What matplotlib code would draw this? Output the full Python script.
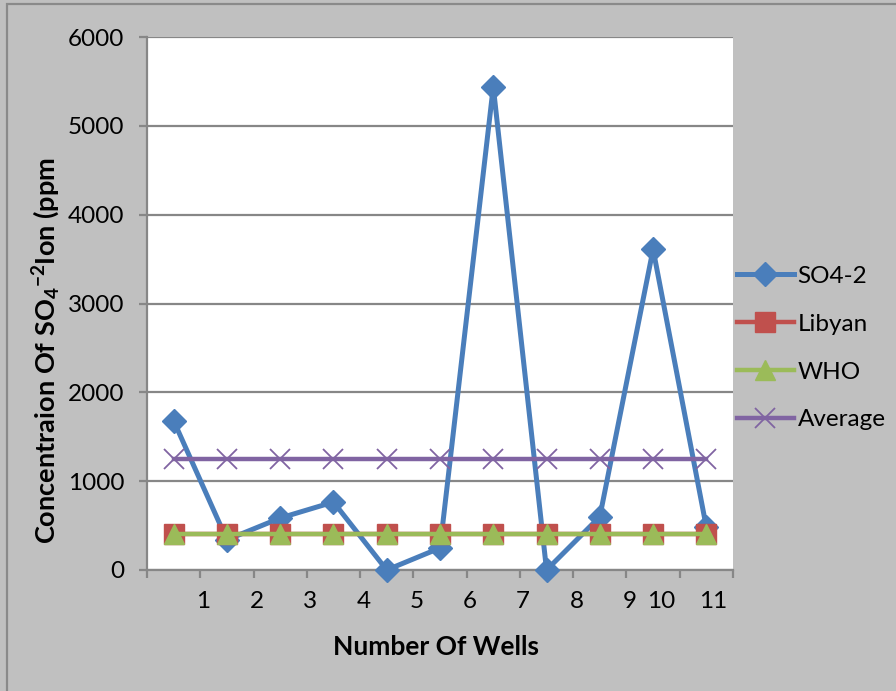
import matplotlib
matplotlib.use("Agg")
import matplotlib.pyplot as plt
from matplotlib.patches import Rectangle

plt.rcParams["font.family"] = ["Lato", "DejaVu Sans"]
plt.rcParams["mathtext.fontset"] = "custom"
plt.rcParams["mathtext.rm"] = "Lato:bold"
plt.rcParams["mathtext.it"] = "Lato:bold"
plt.rcParams["mathtext.bf"] = "Lato:bold"

# Well positions (category centres) and concentrations in ppm
wells = [0.5, 1.5, 2.5, 3.5, 4.5, 5.5, 6.5, 7.5, 8.5, 9.5, 10.5]
so4 = [1680, 340, 585, 765, 0, 248, 5440, 0, 600, 3610, 480]
libyan = [400] * 11
who = [400] * 11
average = [1250] * 11

# Category boundaries and the label text drawn under the axis
boundaries = list(range(0, 12))
label_pos = [1.06, 2.06, 3.06, 4.06, 5.06, 6.06, 7.06, 8.06, 9.07, 9.66, 10.62]
label_txt = ["1", "2", "3", "4", "5", "6", "7", "8", "9", "10", "11"]
yticks = [0, 1000, 2000, 3000, 4000, 5000, 6000]

W, H = 896, 691
bg = "#c0c0c0"
grid = "#878787"

fig = plt.figure(figsize=(W / 100, H / 100), dpi=100, facecolor=bg)
fig.patches.append(Rectangle((7 / W, -0.1), 1.2, (H - 4) / H + 0.1,
                             transform=fig.transFigure, facecolor="none",
                             edgecolor="#8a8a8a", linewidth=1.6))

ax = fig.add_axes([147 / W, (H - 570) / H, (733 - 147) / W, (570 - 37) / H])
ax.set_facecolor("white")

ax.set_xlim(0, 11)
ax.set_ylim(0, 6000)
ax.set_yticks(yticks)
ax.yaxis.grid(True, color=grid, linewidth=1.6)
ax.set_axisbelow(True)
for s in ["top", "right"]:
    ax.spines[s].set_visible(False)
for s in ["left", "bottom"]:
    ax.spines[s].set_color(grid)
    ax.spines[s].set_linewidth(1.6)

ax.set_xticks(boundaries)
ax.set_xticklabels([])
ax.set_xticks(label_pos, minor=True)
ax.set_xticklabels(label_txt, minor=True)
ax.tick_params(axis="x", which="major", direction="out", length=5.5,
               width=1.6, color=grid)
ax.tick_params(axis="x", which="minor", length=0, pad=15, labelsize=17.5)
ax.tick_params(axis="y", direction="out", length=5.5, width=1.6, color=grid,
               pad=11, labelsize=17.5)

ax.plot(wells, so4, color="#4a7ebb", linewidth=3.6, marker="D",
        markersize=12, label="SO4-2", zorder=3, clip_on=False)
ax.plot(wells, libyan, color="#c0504d", linewidth=3.2, marker="s",
        markersize=14, label="Libyan", zorder=4, clip_on=False)
ax.plot(wells, who, color="#9bbb59", linewidth=3.2, marker="^",
        markersize=14, label="WHO", zorder=5, clip_on=False)
ax.plot(wells, average, color="#8064a2", linewidth=3.2, marker="x",
        markersize=14, markeredgewidth=1.3, label="Average", zorder=4,
        clip_on=False)

leg = fig.legend(loc="center left", bbox_to_anchor=(727 / W, 1 - 348 / H),
                 frameon=False, fontsize=17.5, handlelength=2.35,
                 handletextpad=0.15, labelspacing=1.11, borderaxespad=0)

fig.text(436 / W, 1 - 647 / H, "Number Of Wells", ha="center", va="center",
         fontsize=19, fontweight="bold")
fig.text(46 / W, 1 - 350 / H, r"Concentraion Of SO$_4$$^{-2}$Ion (ppm",
         ha="center", va="center", rotation=90, fontsize=19.5,
         fontweight="bold")

fig.savefig("out.png", dpi=100, facecolor=bg)
